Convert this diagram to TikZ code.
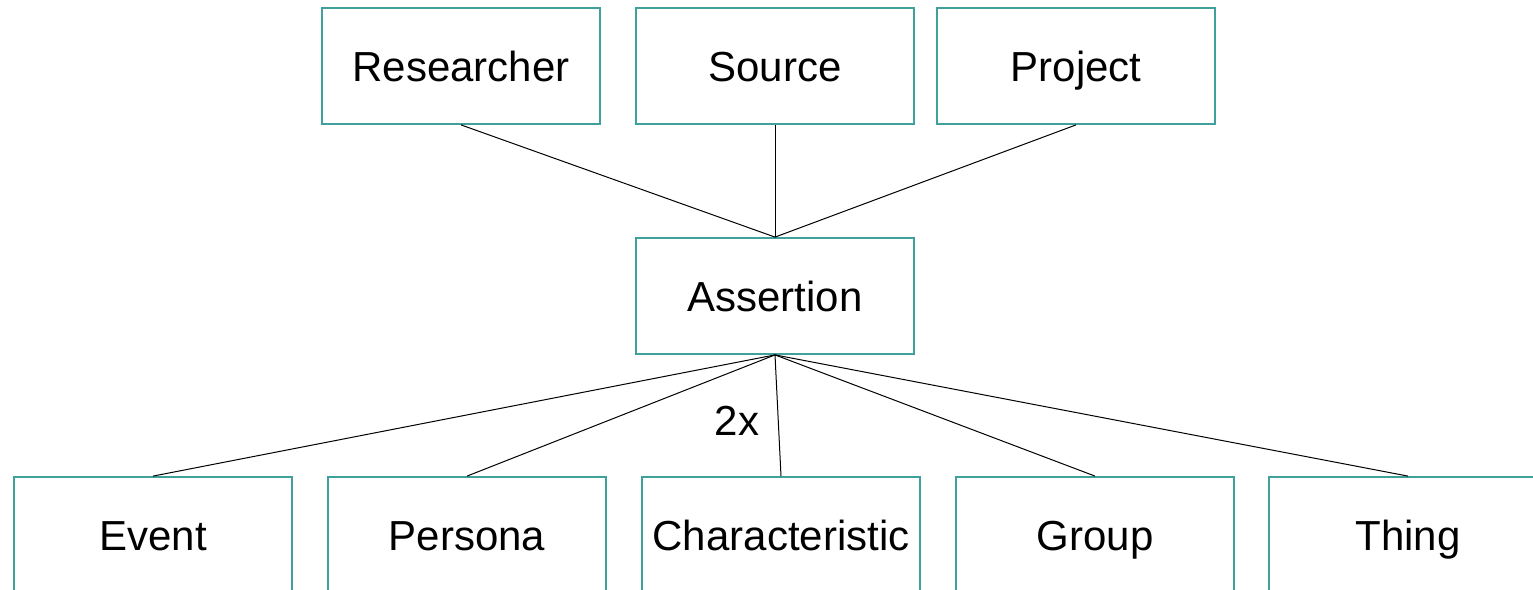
\documentclass[tikz,border=0pt]{standalone}
\usepackage{fontspec}
\setmainfont{Liberation Sans}
\definecolor{boxteal}{RGB}{64,160,156}
\begin{document}
\begin{tikzpicture}[x=1pt,y=-1pt,
  box/.style={draw=boxteal, line width=1.8pt, minimum width=278pt, minimum height=116pt, inner sep=0pt, text height=35pt, text depth=4pt, font=\fontsize{42}{50}\selectfont},
  lbl/.style={inner sep=0pt, font=\fontsize{42}{50}\selectfont},
  link/.style={black, line width=1pt}]
\useasboundingbox (0,0) rectangle (1533,589);
\clip (0,0) rectangle (1533,589);
\node[box] (res) at (461,66) {Researcher};
\node[box] (src) at (775,66) {Source};
\node[box] (prj) at (1076,66) {Project};
\node[box] (asr) at (775,296) {Assertion};
\node[box] (evt) at (153,535) {Event};
\node[box] (per) at (467,535) {Persona};
\node[box] (chr) at (781,535) {Characteristic};
\node[box] (grp) at (1095,535) {Group};
\node[box] (thg) at (1408,535) {Thing};
\node[lbl] (twox) at (737,421) {2x};
\draw[link] (res.south) -- (asr.north);
\draw[link] (src.south) -- (asr.north);
\draw[link] (prj.south) -- (asr.north);
\draw[link] (asr.south) -- (evt.north);
\draw[link] (asr.south) -- (per.north);
\draw[link] (asr.south) -- (chr.north);
\draw[link] (asr.south) -- (grp.north);
\draw[link] (asr.south) -- (thg.north);
\end{tikzpicture}
\end{document}
